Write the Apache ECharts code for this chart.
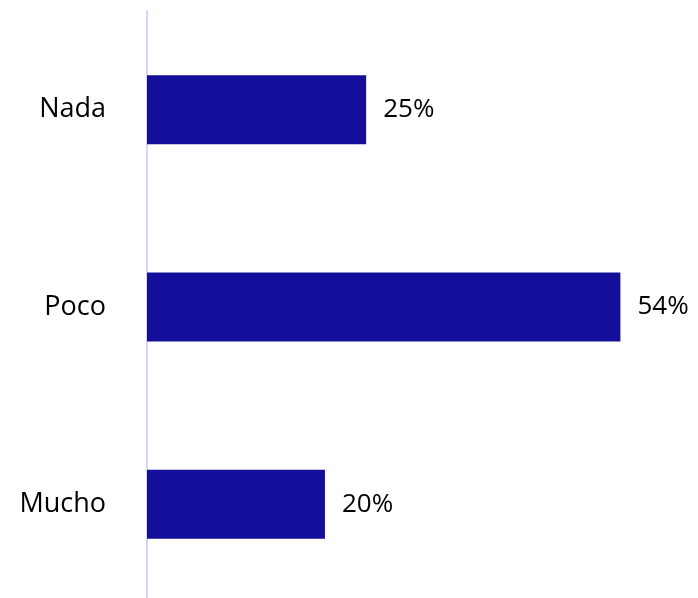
<!DOCTYPE html>
<html>
<head>
<meta charset="utf-8">
<script src="https://cdn.jsdelivr.net/npm/echarts@6/dist/echarts.min.js"></script>
<style>
  html, body { margin: 0; padding: 0; background: #fff; overflow: hidden; }
  #chart { width: 698px; height: 603px; }
</style>
</head>
<body>
<div id="chart"></div>
<script>
const categories = ['Nada', 'Poco', 'Mucho'];
// values; labels show them rounded
const values = [25, 54, 20.3];

const chart = echarts.init(document.getElementById('chart'), null, { renderer: 'canvas' });

const option = {
  animation: false,
  grid: { left: 147, right: 25, top: 11, bottom: 0 },
  xAxis: {
    type: 'value',
    min: 0,
    max: 60,
    show: false
  },
  yAxis: {
    type: 'category',
    inverse: true,
    data: categories,
    axisLine: { show: true, lineStyle: { color: '#d6d6fb', width: 2 } },
    axisTick: { show: false },
    axisLabel: {
      margin: 41,
      color: '#000',
      fontSize: 27,
      fontFamily: 'Open Sans'
    }
  },
  series: [
    {
      type: 'bar',
      data: values,
      barWidth: '35%',
      itemStyle: { color: '#140f9a' },
      label: {
        show: true,
        position: 'right',
        distance: 17,
        formatter: (p) => Math.round(p.value) + '%',
        color: '#000',
        fontSize: 26,
        fontFamily: 'Open Sans'
      }
    }
  ]
};

chart.setOption(option);
</script>
</body>
</html>
